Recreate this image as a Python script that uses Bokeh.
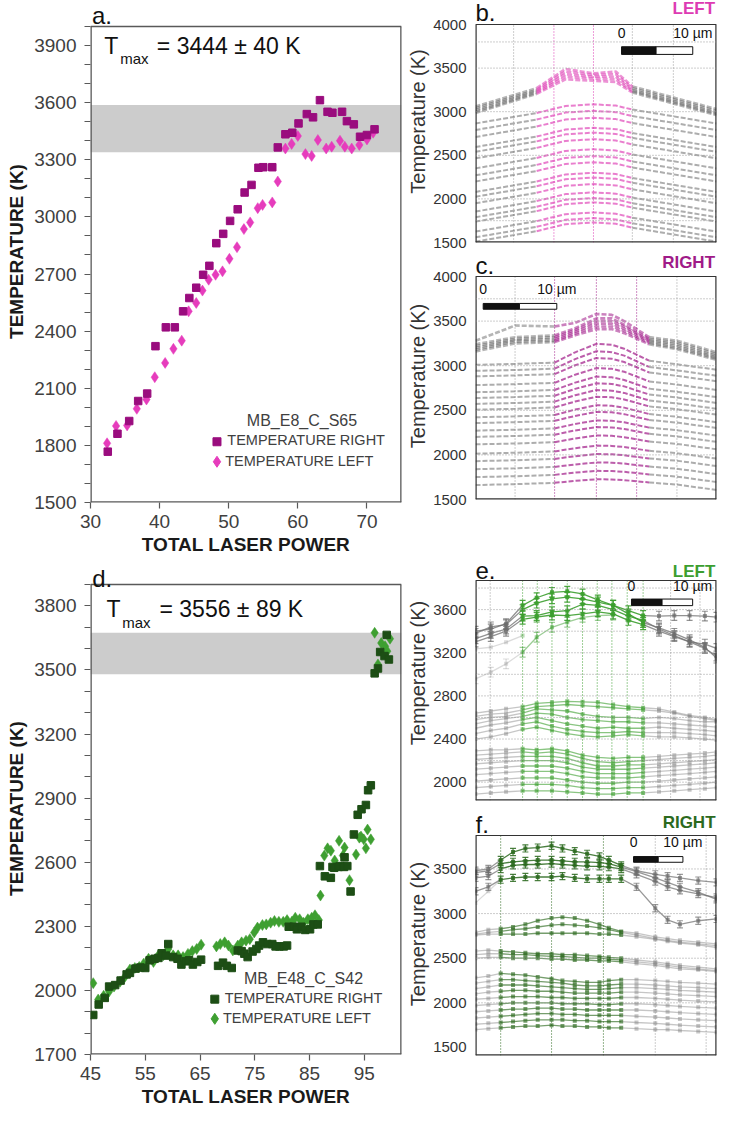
import numpy as np
from bokeh.plotting import figure
from bokeh.layouts import column, row
from bokeh.models import Label, FixedTicker, Range1d, Span
from bokeh.embed import file_html
from bokeh.resources import INLINE

FONT = "Liberation Sans"
TXT = "#404040"

# ---------------- panel a : MB_E8_C_S65 ----------------
a_sample = "MB_E8_C_S65"
a_names = ["TEMPERATURE RIGHT", "TEMPERATURE LEFT"]
a_right = [(32.5,1767),(33.9,1861),(35.6,1928),(36.9,2033),(38.2,2072),(39.4,2321),(40.9,2420),
           (42.2,2420),(43.4,2504),(44.3,2574),(45.3,2628),(46.3,2696),(47.2,2743),(48.2,2862),
           (49.2,2911),(50.2,2979),(51.3,3040),(52.3,3128),(53.3,3168),(54.3,3258),(55.0,3261),
           (56.3,3261),(57.1,3365),(58.2,3434),(59.2,3442),(60.1,3491),(61.3,3540),(62.2,3523),
           (63.2,3613),(64.3,3552),(65.0,3547),(66.4,3552),(67.1,3503),(68.1,3486),(69.0,3421),
           (70.0,3430),(71.1,3460)]
a_left = [(32.4,1811),(33.7,1902),(35.3,1905),(36.7,1992),(38.1,2041),(39.3,2158),(40.8,2233),
          (42.0,2307),(43.2,2350),(44.2,2504),(45.3,2548),(46.2,2613),(47.1,2670),(48.1,2696),
          (49.1,2714),(50.1,2780),(51.2,2841),(52.2,2936),(53.1,2971),(54.2,3046),(54.9,3063),
          (56.3,3076),(57.1,3186),(58.2,3359),(59.1,3383),(60.0,3425),(61.1,3330),(62.0,3320),
          (62.9,3404),(64.1,3359),(64.9,3369),(66.1,3400),(66.8,3369),(67.8,3359),(68.9,3378),
          (70.0,3407),(70.9,3442)]
a_band = (3340, 3588)
a_tmax = "3444 \u00b1 40 K"
a_xticks = [30, 40, 50, 60, 70]
a_yticks = [1500, 1800, 2100, 2400, 2700, 3000, 3300, 3600, 3900]

# ---------------- panel d : MB_E48_C_S42 ----------------
d_sample = "MB_E48_C_S42"
d_right = [(45.5,1885),(46.5,1934),(47.6,1965),(48.4,2018),(49.5,2025),(50.5,2046),(51.6,2075),
           (52.2,2082),(53.2,2102),(54.1,2107),(55.0,2105),(55.8,2141),(56.7,2148),(57.4,2152),
           (58.0,2174),(58.8,2163),(59.2,2217),(60.1,2156),(60.9,2148),(61.6,2121),(62.4,2136),
           (63.0,2141),(63.7,2121),(64.5,2133),(65.2,2144),(68.3,2115),(69.2,2130),(69.9,2115),
           (70.8,2105),(71.9,2187),(72.6,2184),(73.1,2172),(73.7,2156),(74.6,2182),(75.3,2194),
           (75.8,2210),(76.5,2225),(77.3,2217),(78.2,2217),(78.8,2206),(79.5,2206),(80.3,2206),
           (80.9,2210),(81.2,2298),(82.1,2298),(82.7,2286),(83.5,2298),(84.2,2283),(85.1,2286),
           (85.7,2309),(86.5,2309),(86.9,2582),(87.8,2534),(88.9,2527),(89.2,2578),(89.5,2574),
           (90.3,2578),(90.6,2582),(91.3,2578),(91.4,2623),(91.9,2582),(92.5,2463),(93.1,2730),
           (93.8,2822),(94.5,2848),(95.3,2868),(95.7,2937),(96.2,2960),(96.9,3484),(97.5,3507),
           (97.9,3584),(98.7,3565),(99.1,3664),(99.5,3549)]
d_left = [(45.5,2034),(46.4,1957),(47.4,1975),(48.4,1995),(49.3,2018),(50.4,2041),(51.3,2064),
          (52.2,2098),(53.1,2105),(53.9,2110),(54.7,2125),(55.6,2148),(56.5,2133),(57.4,2164),
          (58.3,2164),(59.2,2194),(60.1,2164),(61.0,2164),(61.9,2156),(62.8,2171),(63.6,2184),
          (64.4,2194),(65.2,2214),(68.0,2206),(68.7,2217),(69.5,2225),(70.2,2210),(71.0,2187),
          (71.9,2210),(72.6,2225),(73.4,2233),(74.1,2240),(74.9,2271),(75.5,2294),(76.4,2306),
          (77.1,2309),(77.9,2317),(78.6,2325),(79.4,2321),(80.2,2321),(80.9,2329),(81.8,2322),
          (82.4,2340),(83.2,2333),(83.9,2317),(84.7,2333),(85.4,2340),(86.0,2352),(86.7,2329),
          (87.0,2444),(87.7,2631),(88.3,2665),(88.9,2654),(89.6,2608),(90.4,2700),(91.1,2631),
          (91.4,2669),(92.3,2516),(93.5,2636),(94.1,2715),(94.4,2720),(94.9,2707),(95.3,2665),
          (95.6,2753),(96.2,2707),(96.9,3674),(97.5,3526),(98.1,3626),(98.8,3611),(99.2,3588),
          (99.7,3646)]
d_band = (3480, 3674)
d_tmax = "3556 \u00b1 89 K"
d_xticks = [45, 55, 65, 75, 85, 95]
d_yticks = [1700, 2000, 2300, 2600, 2900, 3200, 3500, 3800]

# ---------------- panel b : LEFT profiles (sample a) ----------------
b_x = [0, 8.5, 12.5, 16.4, 19.5, 21.8, 33.5]
b_hot = [[3060, 3270, 3490, 3440, 3460, 3290, 3030],
         [3040, 3250, 3460, 3420, 3430, 3270, 3010],
         [3020, 3235, 3430, 3400, 3400, 3250, 2990],
         [3000, 3220, 3400, 3380, 3370, 3235, 2975],
         [2985, 3205, 3370, 3355, 3340, 3220, 2960]]
b_cool = [[2865, 2985, 3065, 3085, 3070, 3025, 2865],
          [2790, 2910, 2990, 3010, 2995, 2950, 2790],
          [2710, 2830, 2910, 2930, 2915, 2870, 2710],
          [2595, 2715, 2795, 2815, 2800, 2755, 2595],
          [2540, 2660, 2740, 2760, 2745, 2700, 2540],
          [2465, 2585, 2665, 2685, 2670, 2625, 2465],
          [2350, 2470, 2550, 2570, 2555, 2510, 2350],
          [2270, 2390, 2470, 2490, 2475, 2430, 2270],
          [2200, 2320, 2400, 2420, 2405, 2360, 2200],
          [2080, 2200, 2280, 2300, 2285, 2240, 2080],
          [2025, 2145, 2225, 2245, 2230, 2185, 2025],
          [1950, 2070, 2150, 2170, 2155, 2110, 1950],
          [1855, 1975, 2055, 2075, 2060, 2015, 1855],
          [1790, 1910, 1990, 2010, 1995, 1950, 1790],
          [1740, 1860, 1940, 1960, 1945, 1900, 1740],
          [1625, 1745, 1825, 1845, 1830, 1785, 1625],
          [1560, 1680, 1760, 1780, 1765, 1720, 1560],
          [1510, 1630, 1710, 1730, 1715, 1670, 1510]]

# ---------------- panel c : RIGHT profiles (sample a) ----------------
c_x = [0, 5.4, 10.8, 13.6, 16.5, 18.6, 20.3, 23.7, 27.5, 32.9]
c_hot = [[3280, 3450, 3440, 3480, 3580, 3570, 3500, 3320, 3280, 3150],
         [3240, 3320, 3340, 3420, 3530, 3530, 3460, 3300, 3260, 3130],
         [3220, 3300, 3320, 3400, 3500, 3500, 3440, 3285, 3240, 3110],
         [3200, 3285, 3300, 3380, 3470, 3470, 3415, 3270, 3220, 3095],
         [3180, 3270, 3280, 3360, 3440, 3440, 3390, 3255, 3200, 3080],
         [3160, 3250, 3265, 3340, 3410, 3410, 3365, 3240, 3185, 3065]]
c_cool = [[3010, 3020, 3035, 3150, 3245, 3235, 3190, 3056, 3015, 2955],
          [2942, 2952, 2967, 3074, 3162, 3152, 3113, 2986, 2947, 2887],
          [2881, 2891, 2906, 3005, 3086, 3077, 3041, 2924, 2886, 2826],
          [2783, 2793, 2808, 2899, 2973, 2965, 2932, 2824, 2788, 2728],
          [2703, 2713, 2728, 2810, 2878, 2870, 2840, 2743, 2708, 2648],
          [2638, 2648, 2663, 2740, 2803, 2796, 2768, 2677, 2643, 2583],
          [2572, 2582, 2597, 2669, 2727, 2720, 2695, 2610, 2577, 2517],
          [2507, 2517, 2532, 2598, 2652, 2646, 2622, 2544, 2512, 2452],
          [2422, 2432, 2447, 2508, 2557, 2551, 2530, 2458, 2427, 2367],
          [2357, 2367, 2382, 2437, 2482, 2477, 2457, 2392, 2362, 2302],
          [2272, 2282, 2297, 2347, 2387, 2383, 2365, 2306, 2277, 2217],
          [2202, 2212, 2227, 2274, 2312, 2308, 2291, 2236, 2207, 2147],
          [2118, 2128, 2143, 2184, 2218, 2214, 2199, 2150, 2123, 2063],
          [2014, 2024, 2039, 2075, 2104, 2101, 2088, 2046, 2019, 1959],
          [1930, 1940, 1955, 1985, 2010, 2007, 1996, 1960, 1935, 1875],
          [1840, 1850, 1865, 1893, 1915, 1913, 1903, 1870, 1845, 1785],
          [1751, 1761, 1776, 1801, 1821, 1819, 1810, 1781, 1756, 1696],
          [1662, 1672, 1687, 1709, 1727, 1725, 1717, 1691, 1667, 1607]]

# ---------------- panel e : LEFT profiles (sample d) ----------------
N = None
e_x = [0, 2.5, 5, 7.7, 10, 12.5, 15, 17.5, 20, 22.5, 25, 27.4, 30, 32.5, 35, 37.5, 39.4]
e_hot = [[3400, 3420, 3470, 3640, 3710, 3760, 3770, 3745, 3690, 3640, 3590, 3545, 3540, 3545, 3545, 3540, 3530],
         [3380, 3440, 3460, 3600, 3660, 3700, 3715, 3700, 3670, 3640, 3560, 3480, 3430, 3380, 3320, 3250, 3150],
         [3330, 3380, 3420, 3540, 3545, 3580, 3590, 3650, 3640, 3600, 3540, 3500, 3420, 3360, 3300, 3240, 3170],
         [3300, 3350, 3400, 3510, 3530, 3550, 3545, 3560, 3580, 3560, 3500, 3460, 3400, 3350, 3300, 3280, 3240],
         [2958, 3020, 3097, 3205, 3344, 3436, 3483, 3529, 3545, 3550, N, N, N, N, N, N, N]]
e_faint = [[3236, 3251, 3297, 3359, N, N, N, N, N, N, N, N, N, N, N, N, N]]
e_cool = [[2640, 2660, 2680, 2700, 2730, 2740, 2750, 2745, 2740, 2720, 2700, 2690, 2680, 2650, 2620, 2600, 2580],
          [2610, 2630, 2640, 2670, 2700, 2710, 2720, 2710, 2700, 2690, 2680, 2670, 2660, 2640, 2610, 2590, 2570],
          [2580, 2600, 2610, 2640, 2680, 2670, 2660, 2630, 2610, 2600, 2600, 2590, 2600, 2590, 2570, 2560, 2560],
          [2540, 2570, 2590, 2610, 2640, 2630, 2600, 2580, 2570, 2560, 2560, 2550, 2550, 2540, 2530, 2520, 2510],
          [2500, 2530, 2550, 2580, 2600, 2570, 2540, 2520, 2500, 2510, 2500, 2500, 2510, 2500, 2490, 2480, 2470],
          [2450, 2480, 2500, 2540, 2560, 2520, 2490, 2470, 2460, 2460, 2470, 2460, 2460, 2460, 2450, 2440, 2430],
          [2400, 2420, 2450, 2490, 2510, 2480, 2450, 2430, 2420, 2430, 2440, 2430, 2420, 2420, 2410, 2400, 2390],
          [2290, 2300, 2300, 2310, 2300, 2310, 2290, 2250, 2230, 2220, 2230, 2230, 2240, 2250, 2260, 2270, 2280],
          [2250, 2260, 2270, 2280, 2270, 2280, 2260, 2220, 2190, 2180, 2190, 2200, 2210, 2220, 2230, 2240, 2250],
          [2210, 2220, 2230, 2240, 2240, 2240, 2220, 2180, 2150, 2150, 2160, 2160, 2170, 2180, 2190, 2200, 2210],
          [2170, 2180, 2190, 2200, 2200, 2200, 2180, 2140, 2120, 2120, 2120, 2130, 2140, 2150, 2160, 2170, 2180],
          [2120, 2130, 2140, 2150, 2150, 2150, 2130, 2100, 2080, 2080, 2080, 2090, 2100, 2110, 2120, 2130, 2140],
          [2070, 2080, 2090, 2100, 2100, 2100, 2080, 2050, 2040, 2040, 2040, 2050, 2060, 2070, 2080, 2090, 2100],
          [2010, 2020, 2030, 2040, 2040, 2040, 2020, 2000, 1990, 1990, 2000, 2000, 2010, 2020, 2030, 2040, 2050],
          [1950, 1960, 1970, 1980, 1980, 1980, 1970, 1950, 1940, 1940, 1950, 1950, 1960, 1970, 1980, 1990, 2000],
          [1890, 1900, 1910, 1920, 1920, 1920, 1910, 1900, 1890, 1890, 1900, 1900, 1910, 1920, 1930, 1940, 1950]]
e_err = 45

# ---------------- panel f : RIGHT profiles (sample d) ----------------
f_x = [0, 2.6, 5.1, 7.6, 10.1, 12.6, 15.4, 17.6, 20.1, 22.6, 25.1, 27.0, 29.5, 32.6, 36.4, 38.9, 41.4, 45.1, 48.8]
f_hot = [[3480, 3500, 3600, 3690, 3730, 3740, 3760, 3730, 3700, 3670, 3640, 3600, 3540, 3480, 3440, 3420, 3400, 3370, 3350],
         [3460, 3480, 3560, 3580, 3590, 3600, 3600, 3590, 3580, 3580, 3570, 3560, 3520, 3470, 3400, 3350, 3300, 3240, 3160],
         [3400, 3420, 3500, 3540, 3550, 3550, 3560, 3550, 3540, 3530, 3530, 3520, 3500, 3440, 3360, 3300, 3260, 3220, 3180],
         [3250, 3300, 3380, 3400, 3410, 3410, 3410, 3420, 3400, 3390, 3390, 3390, 3390, 3300, 3060, 2930, 2880, 2920, 2940]]
f_faint = [[3120, 3250, 3380, N, N, N, N, N, N, N, N, N, N, N, N, N, N, N, N]]
f_cool = [[2790, 2820, 2830, 2850, 2880, 2920, 2950, 2960, 2950, 2920, 2880, 2840, 2800, 2780, 2740, 2720, 2700, 2680, 2660],
          [2770, 2790, 2800, 2820, 2830, 2850, 2870, 2880, 2870, 2860, 2840, 2820, 2790, 2760, 2720, 2700, 2680, 2660, 2640],
          [2760, 2770, 2770, 2770, 2770, 2780, 2780, 2780, 2780, 2780, 2770, 2770, 2760, 2740, 2710, 2690, 2670, 2650, 2620],
          [2580, 2590, 2580, 2570, 2560, 2550, 2550, 2540, 2540, 2530, 2520, 2510, 2500, 2480, 2460, 2440, 2420, 2400, 2380],
          [2540, 2550, 2550, 2540, 2540, 2530, 2520, 2520, 2510, 2500, 2500, 2490, 2480, 2460, 2440, 2420, 2400, 2380, 2360],
          [2500, 2510, 2510, 2500, 2500, 2500, 2490, 2490, 2480, 2480, 2470, 2470, 2460, 2440, 2420, 2400, 2380, 2370, 2350],
          [2280, 2300, 2330, 2320, 2310, 2290, 2270, 2250, 2240, 2230, 2230, 2250, 2260, 2260, 2250, 2240, 2230, 2220, 2210],
          [2220, 2240, 2260, 2260, 2250, 2240, 2230, 2220, 2200, 2190, 2190, 2200, 2210, 2210, 2200, 2190, 2180, 2170, 2160],
          [2160, 2180, 2200, 2200, 2200, 2190, 2180, 2170, 2160, 2150, 2150, 2160, 2170, 2170, 2160, 2150, 2140, 2130, 2120],
          [2100, 2120, 2130, 2140, 2140, 2130, 2130, 2120, 2110, 2110, 2110, 2110, 2120, 2120, 2110, 2100, 2090, 2080, 2070],
          [2040, 2050, 2060, 2070, 2070, 2070, 2060, 2060, 2050, 2050, 2050, 2050, 2060, 2060, 2050, 2040, 2030, 2020, 2010],
          [1970, 1980, 1990, 2000, 2000, 2000, 2000, 1990, 1990, 1990, 1980, 1980, 1990, 1990, 1980, 1970, 1960, 1950, 1940],
          [1900, 1910, 1920, 1930, 1930, 1940, 1940, 1930, 1930, 1920, 1920, 1920, 1920, 1920, 1910, 1900, 1890, 1880, 1870],
          [1830, 1840, 1850, 1860, 1870, 1880, 1880, 1870, 1870, 1860, 1860, 1860, 1860, 1850, 1840, 1830, 1820, 1810, 1800],
          [1760, 1770, 1780, 1790, 1800, 1810, 1810, 1810, 1800, 1800, 1790, 1790, 1790, 1780, 1770, 1760, 1750, 1740, 1730],
          [1700, 1710, 1720, 1730, 1740, 1740, 1750, 1740, 1740, 1730, 1730, 1720, 1720, 1710, 1700, 1700, 1690, 1680, 1670]]
f_err = 40

# colours
A_SQ, A_DI = "#9A0C7E", "#E63CBC"
D_SQ, D_DI = "#1D4E15", "#3E9F31"
B_COL, C_COL, E_COL, F_COL = "#DD3BB3", "#A01A88", "#3C9E2F", "#2C6A1E"
GREY = "#5c5c5c"


def lab(p, x, y, text, size, color=TXT, bold=False, align="left", baseline="middle"):
    p.add_layout(Label(x=x, y=y, text=text, text_font=FONT, text_font_size=size,
                       text_color=color, text_font_style="bold" if bold else "normal",
                       text_align=align, text_baseline=baseline))


def box(p, x0, x1, y0, y1, color, w):
    # frame edges are half-clipped, so they are drawn twice as wide
    p.segment([x0, x1, x0], [y0, y0, y0], [x0, x1, x1], [y1, y1, y0], line_color=color, line_width=2 * w)
    p.segment([x0], [y1], [x1], [y1], line_color=color, line_width=w)


def extended_range(yr, height, bt, bb):
    frame = height - bt - bb
    return (yr[0], yr[1] + bt * (yr[1] - yr[0]) / frame)


def scatter_panel(width, height, bl, br, bt, bb, xr, yr, xticks, yticks, band,
                  right, left, csq, cdi, sample, tmax, letter, pos):
    p = figure(width=width, height=height, x_range=Range1d(*xr),
               y_range=Range1d(*extended_range(yr, height, bt, bb)),
               output_backend="svg", toolbar_location=None,
               min_border_left=bl, min_border_right=br, min_border_top=0, min_border_bottom=bb)
    p.xgrid.visible = False
    p.ygrid.visible = False
    p.outline_line_color = None
    yminor = [v for v in range(yticks[0] - 300, int(yr[1]) + 1, 100) if v not in yticks and v >= yr[0]]
    p.xaxis.ticker = FixedTicker(ticks=xticks)
    p.yaxis.ticker = FixedTicker(ticks=yticks, minor_ticks=yminor)
    for ax in (p.xaxis[0], p.yaxis[0]):
        ax.axis_line_color = None
        ax.major_tick_line_color = "#595959"
        ax.major_tick_line_width = 1.2
        ax.major_tick_out = 6
        ax.major_tick_in = 0
        ax.major_label_text_font = FONT
        ax.major_label_text_font_size = "19px"
        ax.major_label_text_color = TXT
        ax.axis_label_text_font = FONT
        ax.axis_label_text_font_size = "19px"
        ax.axis_label_text_font_style = "bold"
        ax.axis_label_text_color = "#1a1a1a"
    p.xaxis.minor_tick_line_color = None
    p.yaxis.minor_tick_line_color = "#595959"
    p.yaxis.minor_tick_out = 6
    p.yaxis.minor_tick_in = 0
    p.xaxis.major_label_standoff = 6
    p.yaxis.major_label_standoff = 8
    p.xaxis.axis_label_standoff = 3
    p.yaxis.axis_label_standoff = 4
    p.xaxis.axis_label = "TOTAL LASER POWER"
    p.yaxis.axis_label = "TEMPERATURE (K)"

    p.quad(left=xr[0], right=xr[1], bottom=band[0], top=band[1], fill_color="#CCCCCC",
           line_color=None)
    box(p, xr[0], xr[1], yr[0], yr[1], "#595959", 1.3)
    rx, ry = zip(*right)
    lx, ly = zip(*left)
    p.scatter(list(lx), list(ly), marker="diamond", size=11, fill_color=cdi, line_color=cdi, line_width=0.5)
    p.scatter(list(rx), list(ry), marker="square", size=7.5, fill_color=csq, line_color=csq)

    # legend (drawn manually to match the original placement)
    lab(p, pos["title"][0], pos["title"][1], sample, "16px", align="center")
    p.scatter([pos["sq"][0]], [pos["sq"][1]], marker="square", size=8, fill_color=csq, line_color=csq)
    p.scatter([pos["di"][0]], [pos["di"][1]], marker="diamond", size=11, fill_color=cdi, line_color=cdi)
    lab(p, pos["sqt"][0], pos["sqt"][1], "TEMPERATURE RIGHT", "14.5px")
    lab(p, pos["dit"][0], pos["dit"][1], "TEMPERATURE LEFT", "14.5px")

    # T_max annotation
    lab(p, pos["T"][0], pos["T"][1], "T", "23px", color="#111111")
    lab(p, pos["max"][0], pos["max"][1], "max", "15px", color="#111111")
    lab(p, pos["eq"][0], pos["T"][1], "=  " + tmax, "23px", color="#111111")
    lab(p, pos["letter"][0], pos["letter"][1], letter, "24px", color="#111111")
    return p


fig_a = scatter_panel(404, 562, 90, 3, 26, 60, (30, 75), (1500, 4000), a_xticks, a_yticks, a_band,
                      a_right, a_left, A_SQ, A_DI, a_sample, a_tmax, "a.",
                      dict(title=(60.6, 1929), sq=(48.3, 1819), di=(48.3, 1714),
                           sqt=(49.8, 1830), dit=(49.5, 1720),
                           T=(32.0, 3900), max=(34.3, 3830), eq=(39.6,), letter=(30.2, 4060)))
fig_d = scatter_panel(404, 555, 88, 1, 22, 63, (45, 101.8), (1700, 3900), d_xticks, d_yticks, d_band,
                      d_right, d_left, D_SQ, D_DI, d_sample, d_tmax, "d.",
                      dict(title=(83.9, 2055), sq=(67.7, 1959), di=(67.7, 1867),
                           sqt=(69.5, 1963), dit=(69.2, 1872),
                           T=(47.9, 3787), max=(50.8, 3720), eq=(57.6,), letter=(45.3, 3930)))


def profile_panel(height, bt, bb, xmax, yr, yticks, hgrid, vgrid, vcol, col):
    p = figure(width=313, height=height, x_range=Range1d(0, xmax),
               y_range=Range1d(*extended_range(yr, height, bt, bb)),
               output_backend="svg", toolbar_location=None, x_axis_location=None,
               min_border_left=62, min_border_right=1, min_border_top=0, min_border_bottom=bb)
    p.xgrid.visible = False
    p.ygrid.visible = False
    p.outline_line_color = None
    ax = p.yaxis[0]
    ax.ticker = FixedTicker(ticks=yticks)
    ax.major_tick_line_color = None
    ax.minor_tick_line_color = None
    ax.axis_line_color = None
    ax.major_label_text_font = FONT
    ax.major_label_text_font_size = "15px"
    ax.major_label_text_color = "#333333"
    ax.major_label_standoff = 3
    ax.axis_label = "Temperature (K)"
    ax.axis_label_text_font = FONT
    ax.axis_label_text_font_size = "20px"
    ax.axis_label_text_font_style = "normal"
    ax.axis_label_text_color = "#333333"
    ax.axis_label_standoff = 1
    for h in hgrid:
        p.add_layout(Span(location=h, dimension="width", line_color="#9a9a9a",
                          line_dash="1 2", line_width=1))
    vc = [col if c else "#9a9a9a" for c in vcol]
    p.segment(vgrid, [yr[0]] * len(vgrid), vgrid, [yr[1]] * len(vgrid), line_color=vc,
              line_dash="1 2", line_width=1)
    return p


def dashed_profiles(p, xs, rows, i0, i1, col, width=2.2, galpha=0.5, calpha=0.75):
    xs = np.array(xs, dtype=float)
    for r in rows:
        ys = np.array(r, dtype=float)
        p.line(xs[:i0 + 1], ys[:i0 + 1], line_color=GREY, line_alpha=galpha, line_width=width, line_dash="5 2")
        p.line(xs[i1:], ys[i1:], line_color=GREY, line_alpha=galpha, line_width=width, line_dash="5 2")
        p.line(xs[i0:i1 + 1], ys[i0:i1 + 1], line_color=col, line_alpha=calpha, line_width=width, line_dash="5 2")


def bar_profiles(p, xs, rows, i0, i1, col, err=None, galpha=0.7, calpha=0.85, gcol="#777777",
                 width=1.3, msize=4):
    xs = np.array(xs, dtype=float)
    for r in rows:
        ys = np.array(r, dtype=float)
        p.line(xs[:i0 + 1], ys[:i0 + 1], line_color=gcol, line_alpha=galpha, line_width=width)
        p.line(xs[i1:], ys[i1:], line_color=gcol, line_alpha=galpha, line_width=width)
        p.line(xs[i0:i1 + 1], ys[i0:i1 + 1], line_color=col, line_alpha=calpha, line_width=width)
        ok = ~np.isnan(ys)
        cols = [col if (i0 <= i <= i1) else gcol for i in range(len(xs))]
        cols = [c for c, o in zip(cols, ok) if o]
        alph = [calpha if c == col else galpha for c in cols]
        xx, yy = xs[ok], ys[ok]
        if err is not None:
            p.segment(xx, yy - err, xx, yy + err, line_color=cols, line_alpha=alph, line_width=1.2)
            p.scatter(xx, yy - err, marker="dash", size=6, line_color=cols, line_alpha=alph, line_width=1.2)
            p.scatter(xx, yy + err, marker="dash", size=6, line_color=cols, line_alpha=alph, line_width=1.2)
        p.scatter(xx, yy, marker="square", size=msize, fill_color=cols, line_color=None, fill_alpha=alph)


def scale_bar(p, x0, xm, x1, y0, y1, ylab):
    p.quad(left=[x0, xm], right=[xm, x1], bottom=[y0, y0], top=[y1, y1],
           fill_color=["#111111", "#ffffff"], line_color="#111111", line_width=1)
    lab(p, x0, ylab, "0", "14px", color="#111111", align="center")
    lab(p, x1, ylab, "10 \u00b5m", "14px", color="#111111", align="center")


# panel b
fig_b = profile_panel(252, 24, 10, 33.5, (1500, 4000), [1500, 2000, 2500, 3000, 3500, 4000],
                      [1750, 2000, 2500, 3000, 3500, 3800], [5.3, 10.9, 16.4, 21.8, 27.5],
                      [False, True, True, False, False], B_COL)
dashed_profiles(fig_b, b_x, b_cool, 1, 5, B_COL, width=2.0, calpha=0.65)
dashed_profiles(fig_b, b_x, b_hot, 1, 5, B_COL, width=2.6, galpha=0.45, calpha=0.55)
scale_bar(fig_b, 20.3, 25.1, 30.2, 3657, 3745, 3900)
box(fig_b, 0, 33.5, 1500, 4000, "#333333", 1.2)
lab(fig_b, 0.0, 4135, "b.", "24px", color="#111111")
lab(fig_b, 33.3, 4180, "LEFT", "17px", color=B_COL, bold=True, align="right")

# panel c
fig_c = profile_panel(293, 24, 46, 32.9, (1500, 4000), [1500, 2000, 2500, 3000, 3500, 4000],
                      [2000, 2500, 3000, 3500, 3750], [5.4, 10.8, 16.5, 22.0, 27.5],
                      [False, True, True, True, False], C_COL)
dashed_profiles(fig_c, c_x, c_cool, 2, 7, C_COL, width=2.0, calpha=0.7)
dashed_profiles(fig_c, c_x, c_hot, 2, 7, C_COL, width=2.6, galpha=0.45, calpha=0.55)
scale_bar(fig_c, 1.05, 6.0, 11.1, 3633, 3698, 3860)
box(fig_c, 0, 32.9, 1500, 4000, "#333333", 1.2)
lab(fig_c, 0.0, 4128, "c.", "24px", color="#111111")
lab(fig_c, 32.7, 4160, "RIGHT", "17px", color=C_COL, bold=True, align="right")

# panel e
fig_e = profile_panel(267, 35, 12, 39.4, (1830, 3870), [2000, 2400, 2800, 3200, 3600],
                      [2000, 2200, 2400, 2600, 2800, 3000, 3200, 3400, 3600, 3800],
                      [2.4, 7.7, 10.1, 12.5, 15.0, 17.5, 19.9, 22.3, 24.8, 27.4, 31.9, 36.7],
                      [False, True, True, True, True, True, True, True, True, True, False, False], E_COL)
bar_profiles(fig_e, e_x, e_cool, 3, 11, E_COL, err=None, galpha=0.45, calpha=0.6, gcol="#808080")
bar_profiles(fig_e, e_x, e_faint, 3, 11, E_COL, err=None, galpha=0.35, calpha=0.35, gcol="#999999")
bar_profiles(fig_e, e_x, e_hot[:4], 3, 11, E_COL, err=e_err, galpha=0.75, calpha=0.9, gcol="#6e6e6e")
bar_profiles(fig_e, e_x, e_hot[4:], 3, 11, E_COL, err=e_err, galpha=0.35, calpha=0.5, gcol="#9a9a9a")
scale_bar(fig_e, 25.5, 30.5, 35.5, 3637, 3698, 3822)
box(fig_e, 0, 39.4, 1830, 3870, "#333333", 1.2)
lab(fig_e, 0.0, 3964, "e.", "24px", color="#111111")
lab(fig_e, 39.2, 3950, "LEFT", "17px", color=E_COL, bold=True, align="right")

# panel f
fig_f = profile_panel(305, 23, 62, 48.8, (1410, 3875), [1500, 2000, 2500, 3000, 3500],
                      [2000, 2500, 3000, 3500], [5.1, 15.4, 25.9, 36.4, 46.7],
                      [True, True, True, False, False], F_COL)
bar_profiles(fig_f, f_x, f_cool, 2, 12, F_COL, err=None, galpha=0.45, calpha=0.65, gcol="#808080")
bar_profiles(fig_f, f_x, f_faint, 2, 12, F_COL, err=None, galpha=0.35, calpha=0.35, gcol="#999999")
bar_profiles(fig_f, f_x, f_hot, 2, 12, F_COL, err=f_err, galpha=0.7, calpha=0.85, gcol="#6e6e6e")
scale_bar(fig_f, 32.0, 37.0, 42.0, 3575, 3639, 3799)
box(fig_f, 0, 48.8, 1410, 3875, "#333333", 1.2)
lab(fig_f, 0.0, 4001, "f.", "24px", color="#111111")
lab(fig_f, 48.6, 4020, "RIGHT", "17px", color=F_COL, bold=True, align="right")

layout = row(column(fig_a, fig_d), column(fig_b, fig_c, fig_e, fig_f))
open("out.html", "w").write(file_html(layout, INLINE))
